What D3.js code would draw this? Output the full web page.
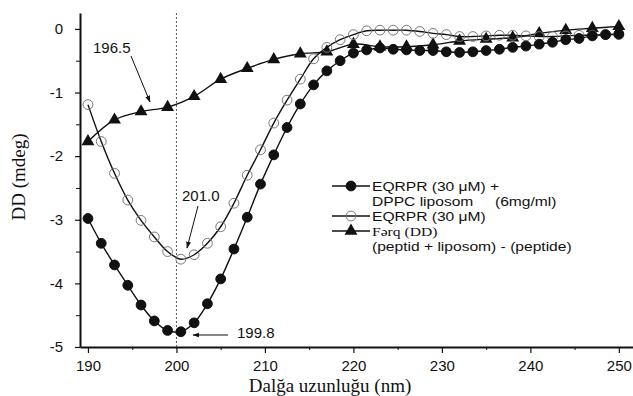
<!DOCTYPE html>
<html>
<head>
<meta charset="utf-8">
<script src="https://cdn.jsdelivr.net/npm/d3@7"></script>
<style>
  body { margin: 0; background: #fff; }
  text { font-family: "Liberation Sans", Arial, sans-serif; fill: #111; }
</style>
</head>
<body>
<svg id="chart" width="633" height="396"></svg>
<script>
const svg = d3.select("#chart");

// wavelengths (nm) of the circle markers and of the triangle markers
const circleX = [190, 191.5, 193, 194.5, 196, 197.5, 199, 200.5, 202, 203.5, 205, 206.5, 208, 209.5,
  211, 212.5, 214, 215.5, 217, 218.5, 220, 221.5, 223, 224.5, 226, 227.5, 229, 230.5, 232, 233.5,
  235, 236.5, 238, 239.5, 241, 242.5, 244, 245.5, 247, 248.5, 250];
const triX = [190, 193, 196, 199, 202, 205, 208, 211, 214, 217, 220, 223, 226, 229, 232, 235, 238, 241, 244, 247, 250];

// EQRPR (30 uM) + DPPC liposom
const withLiposome = [-2.98, -3.37, -3.71, -4.03, -4.34, -4.59, -4.74, -4.76, -4.62, -4.32, -3.93, -3.46, -2.96, -2.44,
  -1.98, -1.55, -1.18, -0.88, -0.66, -0.50, -0.38, -0.33, -0.30, -0.32, -0.33, -0.34, -0.34, -0.36, -0.37, -0.36,
  -0.34, -0.32, -0.29, -0.27, -0.24, -0.21, -0.17, -0.15, -0.11, -0.09, -0.08];
// EQRPR (30 uM)
const peptideOnly = [-1.19, -1.77, -2.27, -2.69, -3.01, -3.27, -3.50, -3.62, -3.55, -3.37, -3.11, -2.74, -2.30, -1.90,
  -1.48, -1.12, -0.79, -0.47, -0.29, -0.17, -0.09, -0.03, -0.02, -0.02, -0.02, -0.04, -0.07, -0.09, -0.12, -0.12,
  -0.11, -0.10, -0.10, -0.11, -0.12, -0.12, -0.11, -0.10, -0.10, -0.09, -0.09];
// difference
const difference = [-1.77, -1.43, -1.30, -1.23, -1.06, -0.79, -0.62, -0.48, -0.39, -0.36, -0.24, -0.28, -0.28, -0.25,
  -0.19, -0.16, -0.14, -0.07, -0.02, 0.01, 0.04];

const xTicks = [190, 200, 210, 220, 230, 240, 250];
const xMinor = [195, 205, 215, 225, 235, 245];
const yTicks = [0, -1, -2, -3, -4, -5];
const yMinor = [-0.5, -1.5, -2.5, -3.5, -4.5];

const legendRows = [
  ["EQRPR (30 μM) +", "DPPC liposom     (6mg/ml)"],
  ["EQRPR (30 μM)"],
  ["Fərq (DD)", "(peptid + liposom) - (peptide)"]
];

const x = d3.scaleLinear().domain([189.1, 251.6]).range([80, 633]);
const y = d3.scaleLinear().domain([-5, 0.25]).range([347, 13]);

const toPts = (xs, ys) => xs.map((v, i) => [v, ys[i]]);
const line = d3.line().x(d => x(d[0])).y(d => y(d[1])).curve(d3.curveCatmullRom.alpha(0.5));

// arrow head
svg.append("defs").append("marker")
  .attr("id", "arr").attr("viewBox", "0 0 10 10").attr("refX", 9).attr("refY", 5)
  .attr("markerWidth", 7).attr("markerHeight", 7).attr("orient", "auto")
  .append("path").attr("d", "M0,1.5L10,5L0,8.5Z").attr("fill", "#111");

// minor ticks
svg.append("g").attr("transform", "translate(0,347)")
  .call(d3.axisBottom(x).tickValues(xMinor).tickSize(3).tickFormat(""))
  .call(g => g.select(".domain").remove());
svg.append("g").attr("transform", "translate(80,0)")
  .call(d3.axisLeft(y).tickValues(yMinor).tickSize(4).tickFormat(""))
  .call(g => g.select(".domain").remove());

// axes
const xAxis = svg.append("g").attr("transform", "translate(0,347)")
  .call(d3.axisBottom(x).tickValues(xTicks).tickSize(6).tickSizeOuter(0).tickPadding(7));
const yAxis = svg.append("g").attr("transform", "translate(80,0)")
  .call(d3.axisLeft(y).tickValues(yTicks).tickSize(5).tickSizeOuter(0).tickPadding(12).tickFormat(d => String(d)));
[xAxis, yAxis].forEach(a => {
  a.selectAll("text").attr("font-size", 15).attr("font-family", "Liberation Sans, Arial, sans-serif").attr("fill", "#111");
  a.select(".domain").attr("stroke-width", 2).attr("stroke", "#111");
  a.selectAll(".tick line").attr("stroke", "#111").attr("stroke-width", 1.2);
});
svg.selectAll("g .tick line").attr("stroke", "#111");

// dotted line at 200 nm
svg.append("line")
  .attr("x1", x(200)).attr("x2", x(200)).attr("y1", 13).attr("y2", 347)
  .attr("stroke", "#555").attr("stroke-width", 1).attr("stroke-dasharray", "2,2");

// lines
const series = [
  { pts: toPts(triX, difference), kind: "tri" },
  { pts: toPts(circleX, peptideOnly), kind: "open" },
  { pts: toPts(circleX, withLiposome), kind: "filled" }
];
series.forEach(s => {
  svg.append("path").attr("d", line(s.pts)).attr("fill", "none")
    .attr("stroke", "#111").attr("stroke-width", 1.4);
});

const triSym = d3.symbol().type(d3.symbolTriangle).size(72);
function drawMarkers(g, kind, pts) {
  if (kind === "tri") {
    g.selectAll("path.m").data(pts).join("path").attr("class", "m")
      .attr("d", triSym).attr("transform", d => `translate(${x(d[0])},${y(d[1])})`)
      .attr("fill", "#111");
  } else {
    g.selectAll("circle").data(pts).join("circle")
      .attr("cx", d => x(d[0])).attr("cy", d => y(d[1])).attr("r", 4.9)
      .attr("fill", kind === "filled" ? "#111" : "none")
      .attr("stroke", kind === "filled" ? "#111" : "#777").attr("stroke-width", 1);
  }
}
series.forEach(s => drawMarkers(svg.append("g"), s.kind, s.pts));

// annotations
const notes = [
  { label: "196.5", tx: 93, ty: 53, from: [131, 56], to: [150, 102] },
  { label: "201.0", tx: 182, ty: 201, from: [198, 206], to: [187, 248] },
  { label: "199.8", tx: 237, ty: 338, from: [228, 335], to: [193, 335] }
];
notes.forEach(n => {
  svg.append("text").attr("x", n.tx).attr("y", n.ty).attr("font-size", 15).text(n.label);
  svg.append("line").attr("x1", n.from[0]).attr("y1", n.from[1]).attr("x2", n.to[0]).attr("y2", n.to[1])
    .attr("stroke", "#111").attr("stroke-width", 1).attr("marker-end", "url(#arr)");
});

// axis titles
svg.append("text").attr("transform", "translate(25,177) rotate(-90)")
  .attr("text-anchor", "middle").attr("font-size", 19)
  .style("font-family", "Liberation Serif, Times New Roman, serif")
  .text("DD (mdeg)");
svg.append("text").attr("x", 330).attr("y", 392)
  .attr("text-anchor", "middle").attr("font-size", 19)
  .style("font-family", "Liberation Serif, Times New Roman, serif")
  .text("Dalğa uzunluğu (nm)");

// legend (text is a little wider than tall in the original, hence the x stretch)
const lg = svg.append("g");
const rowY = [186, 216, 231];
const kinds = ["filled", "open", "tri"];
legendRows.forEach((rows, i) => {
  const yy = rowY[i];
  lg.append("line").attr("x1", 332).attr("x2", 370).attr("y1", yy).attr("y2", yy)
    .attr("stroke", "#111").attr("stroke-width", 1.4);
  drawMarkers(lg.append("g"), kinds[i], [[x.invert(351), y.invert(yy)]]);
  rows.forEach((t, j) => {
    lg.append("text")
      .attr("transform", `translate(372,${yy + 5 + j * 15}) scale(1.2,1)`)
      .attr("font-size", 13)
      .style("white-space", "pre")
      .style("font-family", i === 2 && j === 0 ? "Liberation Serif, serif" : null)
      .text(t);
  });
});
</script>
</body>
</html>
